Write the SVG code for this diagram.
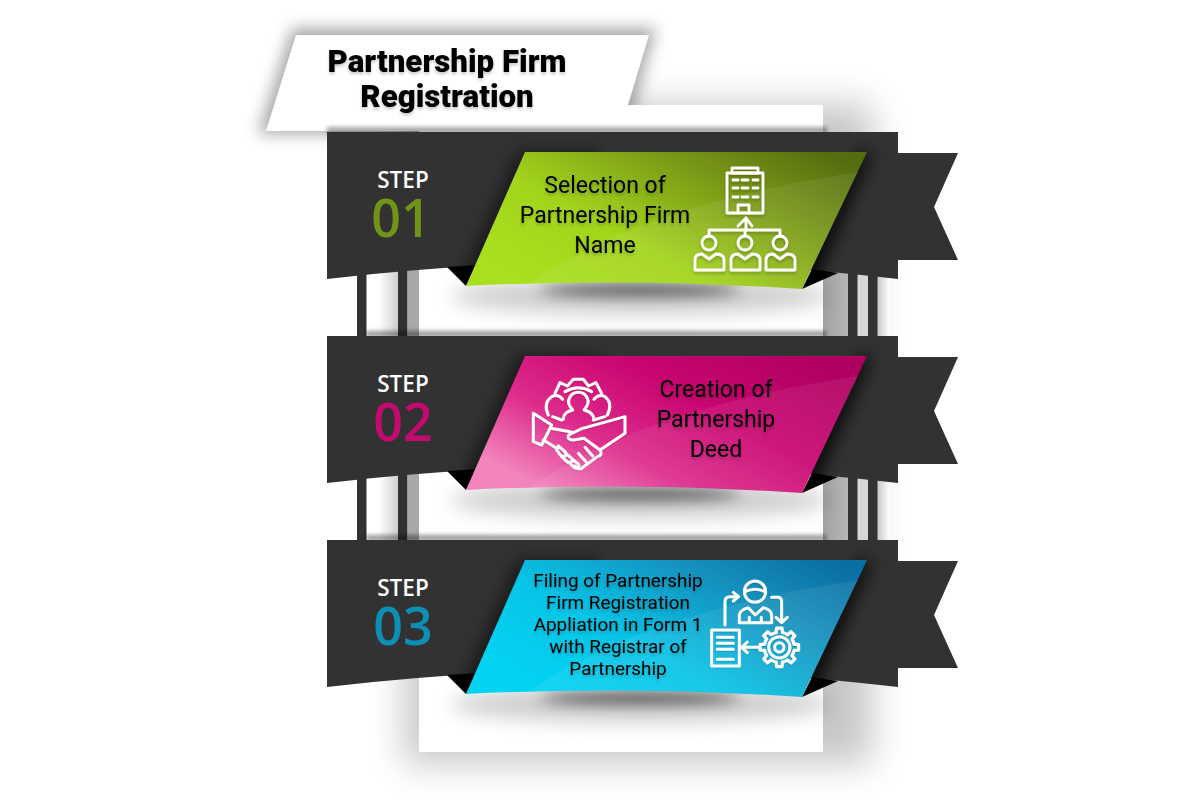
<svg xmlns="http://www.w3.org/2000/svg" xmlns:xlink="http://www.w3.org/1999/xlink" width="1200" height="800" viewBox="0 0 1200 800">
<style>
.title{font-family:Roboto,"Liberation Sans",sans-serif;font-weight:900;font-size:31.300px;fill:#000;text-anchor:middle}
.step{font-family:"Open Sans","Liberation Sans",sans-serif;font-weight:600;font-size:22.500px;fill:#fff;text-anchor:middle}
.num{font-family:"Open Sans","Liberation Sans",sans-serif;font-weight:600;font-size:52px;text-anchor:middle}
.t{font-family:Roboto,"Liberation Sans",sans-serif;font-size:23px;fill:#000;text-anchor:middle}
.ts{font-family:Roboto,"Liberation Sans",sans-serif;font-size:18.900px;fill:#000;text-anchor:middle}
.ic{fill:none;stroke:#fff;stroke-linejoin:round;stroke-linecap:round}
.dark{fill:#323232}
</style>
<defs>
<filter id="b20" filterUnits="userSpaceOnUse" x="0" y="0" width="1200" height="800"><feGaussianBlur stdDeviation="18"/></filter>
<filter id="b10" filterUnits="userSpaceOnUse" x="0" y="0" width="1200" height="800"><feGaussianBlur stdDeviation="10"/></filter>
<filter id="b8" filterUnits="userSpaceOnUse" x="0" y="0" width="1200" height="800"><feGaussianBlur stdDeviation="8"/></filter>
<filter id="b6" filterUnits="userSpaceOnUse" x="0" y="0" width="1200" height="800"><feGaussianBlur stdDeviation="7"/></filter>
<filter id="b2" filterUnits="userSpaceOnUse" x="0" y="0" width="1200" height="800"><feGaussianBlur stdDeviation="2"/></filter>
<filter id="ts" filterUnits="userSpaceOnUse" x="0" y="0" width="1200" height="800"><feDropShadow dx="0" dy="2.200" stdDeviation="1.800" flood-color="#000" flood-opacity=".22"/></filter>
<linearGradient id="gGreen" x1=".05" y1=".75" x2="1" y2=".15"><stop offset="0" stop-color="#aadf1e"/><stop offset=".32" stop-color="#a2d41b"/><stop offset=".68" stop-color="#799a17"/><stop offset="1" stop-color="#566c10"/></linearGradient>
<linearGradient id="gPink" x1=".05" y1=".75" x2="1" y2=".15"><stop offset="0" stop-color="#f285bb"/><stop offset=".28" stop-color="#dd2c8c"/><stop offset=".6" stop-color="#c90571"/><stop offset="1" stop-color="#ad0060"/></linearGradient>
<linearGradient id="gBlue" x1=".05" y1=".75" x2="1" y2=".15"><stop offset="0" stop-color="#03d3f2"/><stop offset=".35" stop-color="#08c4e6"/><stop offset=".72" stop-color="#1590bd"/><stop offset="1" stop-color="#0a6fa3"/></linearGradient>
<linearGradient id="gFade" x1="0" x2="1" y1="0" y2="0"><stop offset=".4" stop-color="#fff"/><stop offset="1" stop-color="#cfcfcf"/></linearGradient>
<linearGradient id="gFadeR" x1="0" x2="1" y1="0" y2="0"><stop offset="0" stop-color="#a2a2a2"/><stop offset="1" stop-color="#b6b6b6"/></linearGradient>
<linearGradient id="gFadeO" x1="0" x2="1" y1="0" y2="0"><stop offset="0" stop-color="#c8c8c8"/><stop offset="1" stop-color="#fff"/></linearGradient>
<clipPath id="bannerClip"><path d="M327 132H898V279Q612 245 327 279Z"/></clipPath>
<path id="panelShape" d="M525 152H867L802 289Q635 277.500 466 286Z"/>
<g id="posts">
<rect x="366" y="270" width="32" height="66" fill="url(#gFade)"/>
<rect x="357" y="270" width="9.500" height="66" class="dark"/>
<rect x="398" y="265" width="9.500" height="71" class="dark"/>
<rect x="407.500" y="265" width="11.500" height="71" fill="#a8a8a8"/>
<rect x="823" y="265" width="25" height="71" fill="url(#gFadeR)"/>
<rect x="857" y="270" width="11" height="66" fill="#d6d6d6"/>
<rect x="877" y="272" width="13" height="64" fill="url(#gFadeO)"/>
<rect x="848" y="270" width="9.500" height="66" class="dark"/>
<rect x="868" y="270" width="9.500" height="66" class="dark"/>
</g>
<g id="bannerBase">
<ellipse cx="640" cy="296" rx="190" ry="18" fill="#000" opacity=".2" filter="url(#b10)"/>
<ellipse cx="640" cy="290" rx="100" ry="6" fill="#000" opacity=".6" filter="url(#b6)"/>
<path d="M898 153H958L934 207L958 260H898Z" class="dark"/>
<path d="M327 132H898V279Q612 245 327 279Z" class="dark"/>
<g clip-path="url(#bannerClip)">
<path d="M518 152L459 286L560 286L600 152Z" fill="#000" opacity=".5" filter="url(#b8)"/>
<path d="M785 289L860 152H872L812 289Z" fill="#000" opacity=".85" filter="url(#b8)"/>
</g>
<path d="M447 267L466 286L477 265Z" fill="#000"/>
<path d="M802 289L838 273L812 269Z" fill="#000"/>
</g>
<path id="swoosh" d="M527 285Q640 205 858 172L802 289Q635 277.500 527 285Z" fill="#fff" opacity=".07"/>
<g id="gearRing">
<path id="gearSeg" d="M41.100-8.700L53.500-7.500V7.500L41.100 8.700A42 42 0 0 1 35.200 22.900"/>
<use xlink:href="#gearSeg" href="#gearSeg" transform="rotate(45)"/>
<use xlink:href="#gearSeg" href="#gearSeg" transform="rotate(90)"/>
<use xlink:href="#gearSeg" href="#gearSeg" transform="rotate(135)"/>
<use xlink:href="#gearSeg" href="#gearSeg" transform="rotate(180)"/>
<use xlink:href="#gearSeg" href="#gearSeg" transform="rotate(225)"/>
<use xlink:href="#gearSeg" href="#gearSeg" transform="rotate(270)"/>
<use xlink:href="#gearSeg" href="#gearSeg" transform="rotate(315)"/>
</g>
</defs>

<rect width="1200" height="800" fill="#fff"/>

<g id="sheet">
<rect x="404" y="104" width="468" height="660" fill="#000" opacity=".22" filter="url(#b20)"/>
<rect x="419" y="105" width="404" height="647" fill="#fff"/>
</g>

<g id="title-card">
<path d="M292 28H656L634 105V134H258Z" fill="#000" opacity=".34" filter="url(#b8)"/>
<rect x="419" y="105" width="404" height="60" fill="#fff"/>
<path d="M296 35H649L628 105V131H266Z" fill="#fff"/>
<rect x="628" y="105" width="195" height="30" fill="#fff"/>
<text class="title" x="447" y="72" filter="url(#ts)">Partnership Firm</text>
<text class="title" x="447" y="107" filter="url(#ts)">Registration</text>
</g>

<g id="supports">
<use xlink:href="#posts" href="#posts"/>
<use xlink:href="#posts" href="#posts" y="204"/>
<rect x="366" y="331" width="460" height="6" fill="#000" opacity=".4" filter="url(#b2)"/>
<rect x="366" y="535" width="460" height="6" fill="#000" opacity=".4" filter="url(#b2)"/>
<rect x="327" y="127" width="500" height="7" fill="#000" opacity=".35" filter="url(#b2)"/>
</g>

<g id="step1">
<use xlink:href="#bannerBase" href="#bannerBase"/>
<use xlink:href="#panelShape" href="#panelShape" fill="url(#gGreen)"/>
<use xlink:href="#swoosh" href="#swoosh"/>
<text class="step" x="403" y="188">STEP</text>
<text class="num" x="401" y="237" fill="#6f9417">01</text>
<g filter="url(#ts)">
<text class="t" x="605" y="193">Selection of</text>
<text class="t" x="605" y="223">Partnership Firm</text>
<text class="t" x="605" y="253">Name</text>
</g>
<g class="ic" stroke-width="2.800" filter="url(#ts)">
<rect x="727" y="173" width="36" height="40"/>
<rect x="732" y="168" width="26" height="5"/>
<path d="M733 180h5M742 180h6M753 180h5M733 188h5M742 188h6M753 188h5M733 197h5M742 197h6M753 197h5"/>
<path d="M738 213V205H749V213"/>
<path d="M746 230V218M738 226L746 218L752 226"/>
<path d="M709 236V230H780V236M745 230V236"/>
<circle cx="709" cy="243" r="7"/><circle cx="745" cy="243" r="7"/><circle cx="780" cy="243" r="7"/>
<path d="M695 270V260Q695 254 702 254L709 259L716 254Q724 254 724 260V270Z"/>
<path d="M731 270V260Q731 254 738 254L745 259L752 254Q760 254 760 260V270Z"/>
<path d="M766 270V260Q766 254 773 254L780 259L787 254Q795 254 795 260V270Z"/>
</g>
</g>

<g id="step2" transform="translate(0,204)">
<use xlink:href="#bannerBase" href="#bannerBase"/>
<use xlink:href="#panelShape" href="#panelShape" fill="url(#gPink)"/>
<use xlink:href="#swoosh" href="#swoosh"/>
<text class="step" x="403" y="188">STEP</text>
<text class="num" x="403" y="237" fill="#c4096f">02</text>
<g filter="url(#ts)">
<text class="t" x="716" y="193">Creation of</text>
<text class="t" x="716" y="223">Partnership</text>
<text class="t" x="716" y="253">Deed</text>
</g>
<g class="ic" stroke-width="9" filter="url(#ts)" transform="translate(510,156) scale(.3333)">
<path d="M135 100L150 68L172 78L190 58L220 58L236 78L258 68L275 100"/>
<path d="M165 95Q205 72 245 95"/>
<path d="M160 178Q160 156 188 150Q170 130 178 115A29 29 0 0 1 232 115Q240 130 222 150Q250 156 252 178"/>
<path d="M115 165Q98 130 125 110Q145 100 158 118M128 170L155 180"/>
<path d="M252 118Q265 100 285 110Q310 130 292 165M285 170L250 180"/>
<path d="M70 160L125 195L95 255L70 245Z"/>
<path d="M122 205L185 216M100 240L140 265"/>
<path d="M345 170V220L270 270L222 235L190 240Q170 240 176 225L215 206L345 170Z"/>
<path d="M270 270Q280 285 262 290L215 325Q205 330 195 318"/>
<path d="M145 258L165 275Q172 282 165 288Q158 292 152 286L140 270ZM165 278L185 295Q190 302 183 306Q176 310 170 304L155 290M185 296L205 312Q210 320 203 324Q196 326 190 320L176 306"/>
<path d="M225 262L248 288M205 280L228 305"/>
</g>
</g>

<g id="step3" transform="translate(0,408)">
<use xlink:href="#bannerBase" href="#bannerBase"/>
<use xlink:href="#panelShape" href="#panelShape" fill="url(#gBlue)"/>
<use xlink:href="#swoosh" href="#swoosh"/>
<text class="step" x="403" y="188">STEP</text>
<text class="num" x="403" y="237" fill="#0d8fb5">03</text>
<g filter="url(#ts)">
<text class="ts" x="618" y="179">Filing of Partnership</text>
<text class="ts" x="618" y="201">Firm Registration</text>
<text class="ts" x="618" y="223">Appliation in Form 1</text>
<text class="ts" x="618" y="245">with Registrar of</text>
<text class="ts" x="618" y="267">Partnership</text>
</g>
<g class="ic" stroke-width="9" filter="url(#ts)" transform="translate(690,152) scale(.3333)">
<circle cx="195" cy="95" r="32"/>
<path d="M165 95Q195 80 225 95"/>
<path d="M148 188V165Q150 150 175 143L196 165L220 143Q245 150 245 165V188ZM178 188V172M214 188V172"/>
<path d="M105 195V125Q105 110 120 110H145M130 97L146 110L130 123"/>
<path d="M245 112H262Q275 112 275 125V185M258 172L275 188L292 172"/>
<rect x="65" y="210" width="83" height="108"/>
<path d="M82 232H130M82 250H130M82 268H130M82 298H130"/>
<path d="M205 262H155M172 246L155 262L172 278"/>
<circle cx="268" cy="262" r="14"/>
<circle cx="268" cy="262" r="32"/>
<g transform="translate(268,262) scale(1.080)"><use xlink:href="#gearRing" href="#gearRing"/></g>
</g>
</g>
</svg>
